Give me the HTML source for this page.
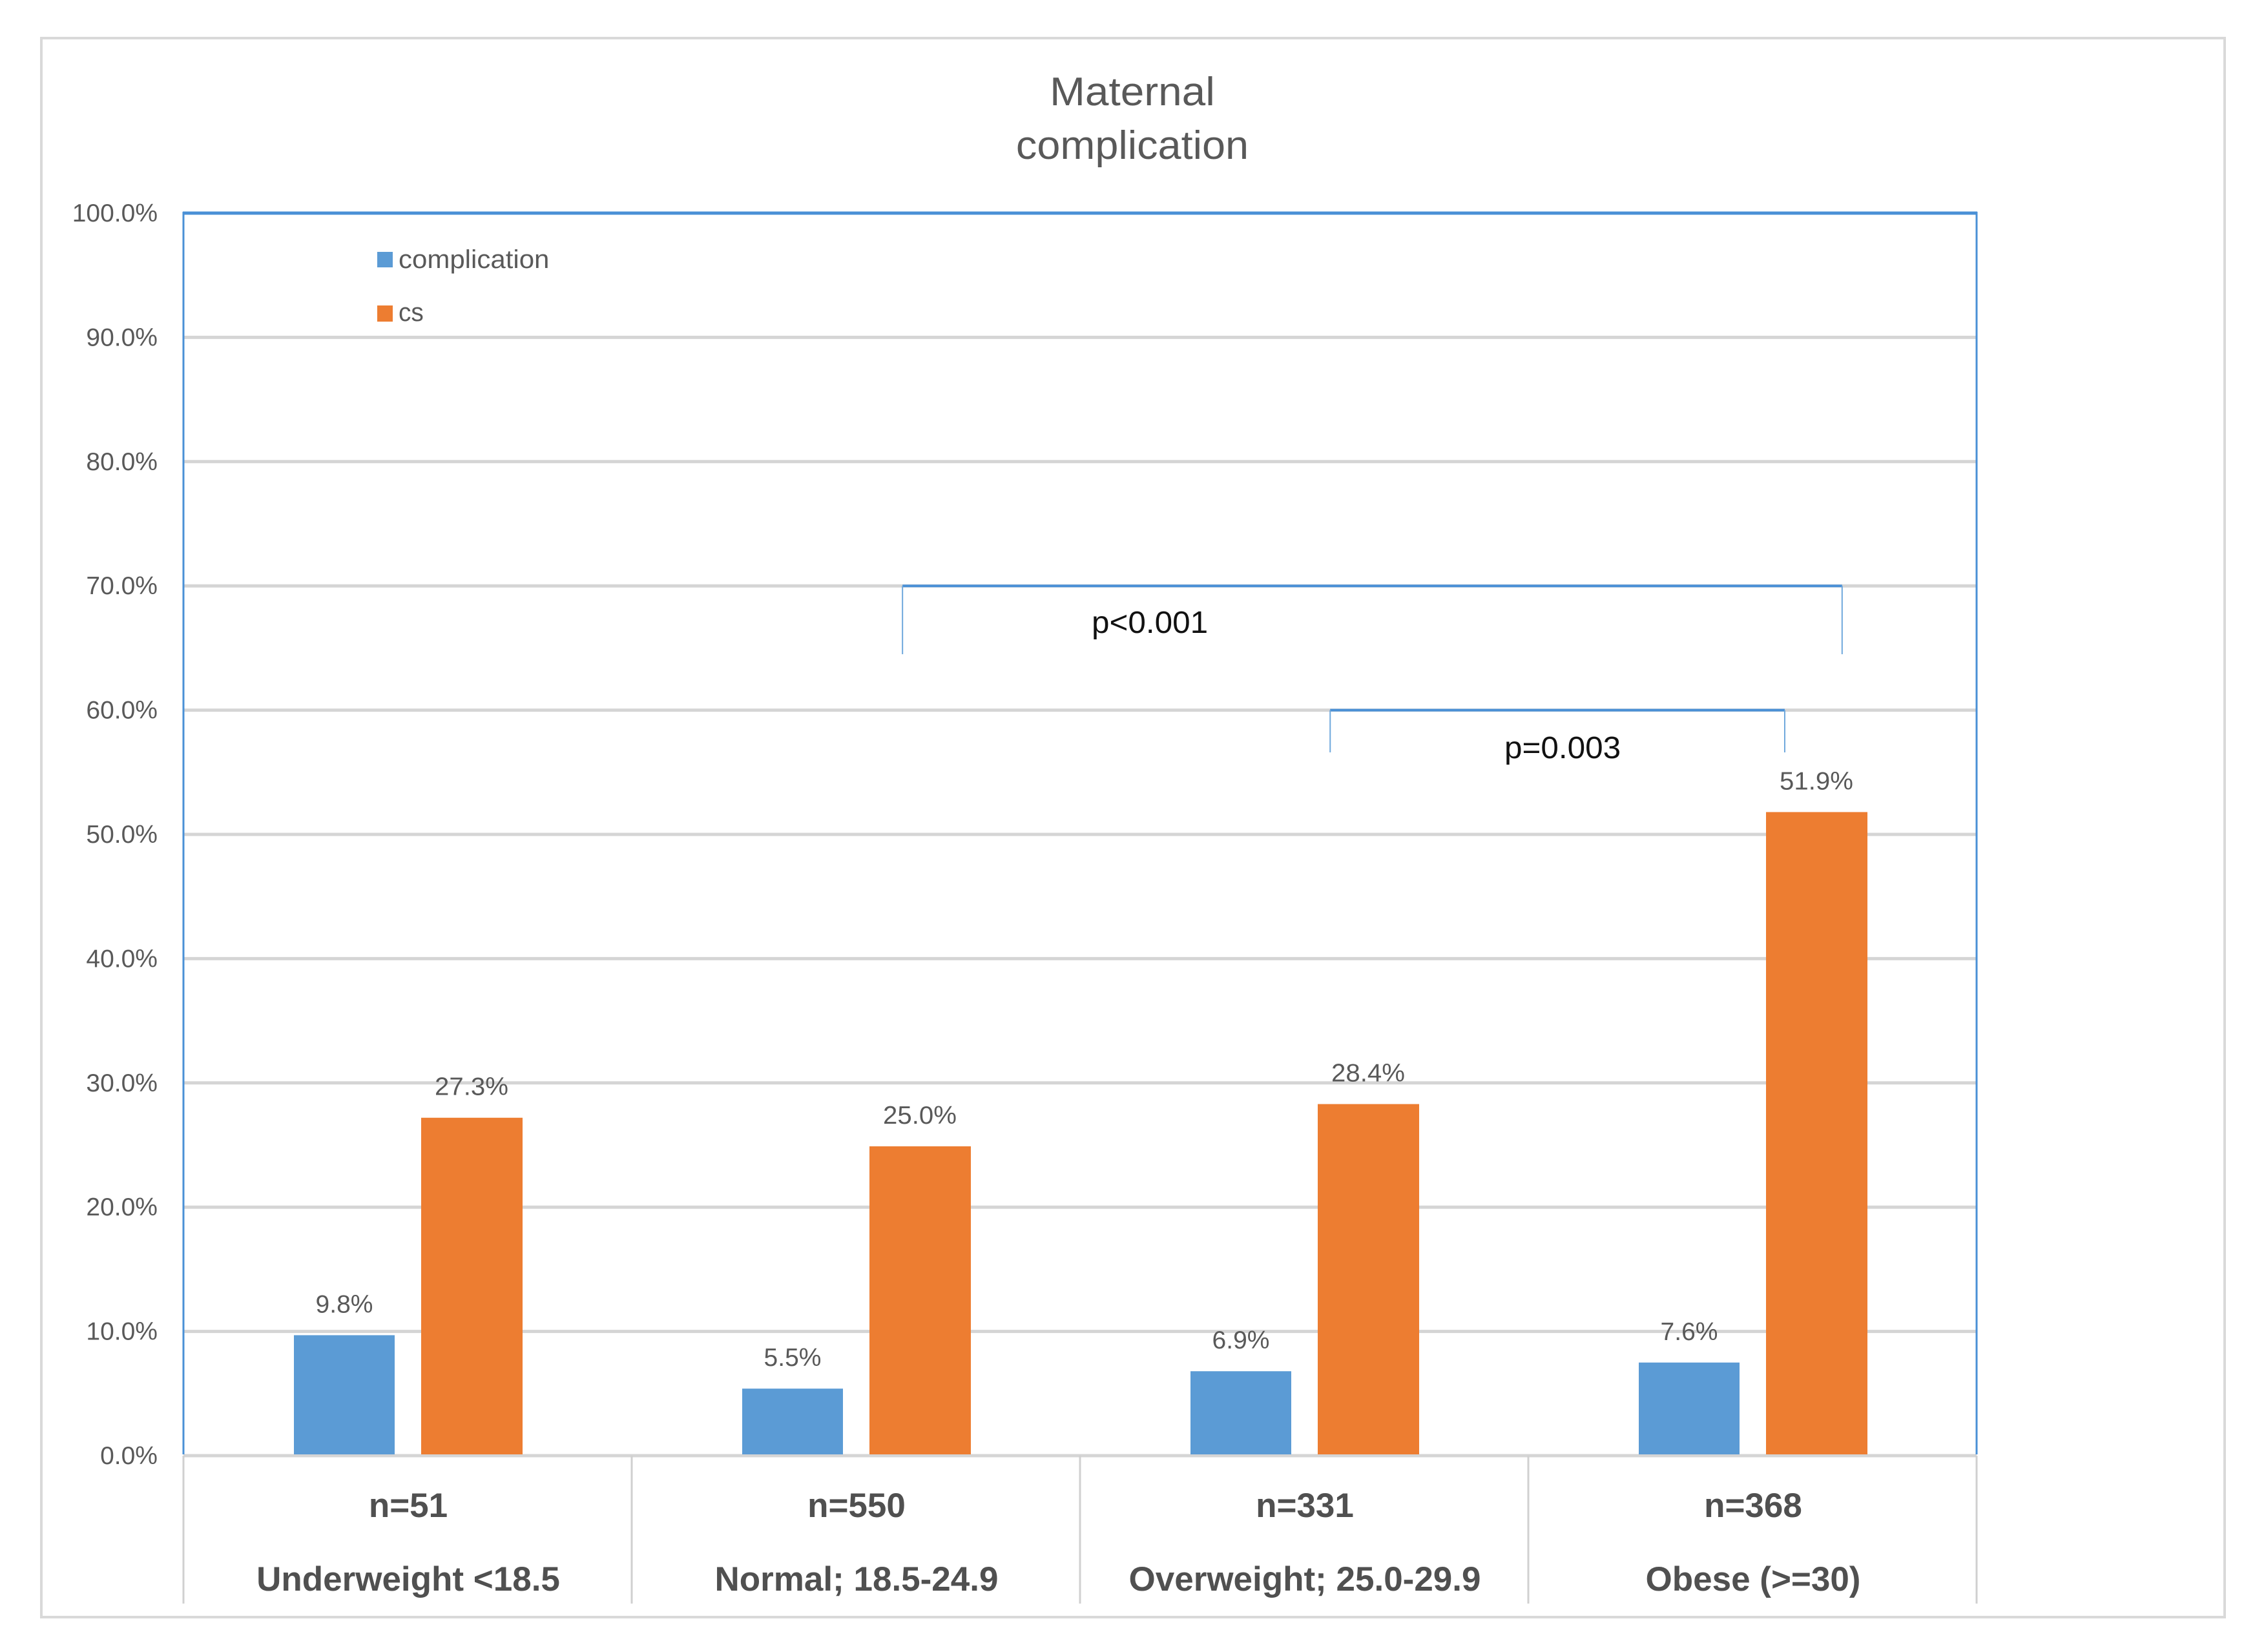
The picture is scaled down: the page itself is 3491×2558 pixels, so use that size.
<!DOCTYPE html>
<html lang="en">
<head>
<meta charset="utf-8">
<title>Maternal complication</title>
<style>
html,body{margin:0;padding:0;background:#fff;}
svg{display:block;}
text{font-family:"Liberation Sans",sans-serif;}
</style>
</head>
<body>
<svg id="chart" xmlns="http://www.w3.org/2000/svg" width="3491" height="2558" viewBox="0 0 3491 2558">
  <rect x="0" y="0" width="3491" height="2558" fill="#ffffff"/>
  <rect x="64" y="59" width="3380" height="2445" fill="#ffffff" stroke="#d9d9d9" stroke-width="4"/>
</svg>
<script>
const categories = ['Underweight <18.5', 'Normal; 18.5-24.9', 'Overweight; 25.0-29.9', 'Obese (>=30)'];
const sampleSizes = ['n=51', 'n=550', 'n=331', 'n=368'];
const complication = [9.8, 5.5, 6.9, 7.6];
const cs = [27.3, 25.0, 28.4, 51.9];
const tickValues = [0, 10, 20, 30, 40, 50, 60, 70, 80, 90, 100];
const tickLabels = ['0.0%', '10.0%', '20.0%', '30.0%', '40.0%', '50.0%', '60.0%', '70.0%', '80.0%', '90.0%', '100.0%'];
const legendLabels = ['complication', 'cs'];
const pLabels = ['p<0.001', 'p=0.003'];
const bracketLevels = [70, 60];
const bracketTails = [64.5, 56.6];
const bracketStarts = [1.604, 2.558];
const bracketEnds = [3.700, 3.572];

const svg = document.getElementById('chart');
const NS = 'http://www.w3.org/2000/svg';
const plotLeft = 284, plotRight = 3060, plotTop = 330, plotBottom = 2254;
const axisFloor = 2483;
const catWidth = (plotRight - plotLeft) / categories.length;
function yScale(v) { return plotBottom - (plotBottom - plotTop) * v / 100; }
function xScale(c) { return plotLeft + c * catWidth; }
const barWidth = 156, orangeWidth = 157, barOffsetBlue = -176, barOffsetOrange = 21, barTopShift = 2;
const BLUE = '#5b9bd5', ORANGE = '#ed7d31', TEXT = '#595959', GRID = '#d5d5d5', FRAME = '#4a90d6';

function line(x1, y1, x2, y2, stroke, width) {
  const el = document.createElementNS(NS, 'line');
  el.setAttribute('x1', x1);
  el.setAttribute('y1', y1);
  el.setAttribute('x2', x2);
  el.setAttribute('y2', y2);
  el.setAttribute('stroke', stroke);
  el.setAttribute('stroke-width', width);
  svg.appendChild(el);
  return el;
}
function rect(x, y, w, h, fill) {
  const el = document.createElementNS(NS, 'rect');
  el.setAttribute('x', x);
  el.setAttribute('y', y);
  el.setAttribute('width', w);
  el.setAttribute('height', h);
  el.setAttribute('fill', fill);
  svg.appendChild(el);
  return el;
}
function label(str, x, y, size, anchor, fill, weight, stretch) {
  const el = document.createElementNS(NS, 'text');
  el.textContent = str;
  el.setAttribute('x', x);
  el.setAttribute('y', y);
  el.setAttribute('font-size', size);
  el.setAttribute('text-anchor', anchor);
  el.setAttribute('fill', fill);
  el.setAttribute('font-weight', weight);
  svg.appendChild(el);
  if (stretch !== 1) {
    el.setAttribute('textLength', (el.getComputedTextLength() * stretch).toFixed(1));
    el.setAttribute('lengthAdjust', 'spacingAndGlyphs');
  }
  return el;
}

// gridlines and y-axis tick labels
tickValues.forEach(function (v, i) {
  if (v !== 100) {
    const g = line(plotLeft, yScale(v), plotRight, yScale(v), GRID, 5);
    
    
  }
  const t = label(tickLabels[i], 244, yScale(v) + 13, 39, 'end', TEXT, 'normal', 1);
  
  
});

// plot border
const borderLeft = line(plotLeft, plotTop - 2, plotLeft, plotBottom - 2, FRAME, 3);


const borderRight = line(plotRight, plotTop - 2, plotRight, plotBottom - 2, FRAME, 3);


const borderTop = line(plotLeft - 1, plotTop, plotRight + 1, plotTop, FRAME, 5);



// category separators
for (let i = 0; i <= categories.length; i++) {
  const s = line(xScale(i), plotBottom, xScale(i), axisFloor, '#d0d0d0', 3);
  
  
}

// bars and value labels
categories.forEach(function (cat, i) {
  const cx = xScale(i + 0.5);
  const top1 = yScale(complication[i]) + barTopShift;
  const top2 = yScale(cs[i]) + barTopShift;
  const b1 = rect(cx + barOffsetBlue, top1, barWidth, plotBottom - 2 - top1, BLUE);
  
  
  const b2 = rect(cx + barOffsetOrange, top2, orangeWidth, plotBottom - 2 - top2, ORANGE);
  
  
  const t1 = label(complication[i].toFixed(1) + '%', cx + barOffsetBlue + barWidth / 2, top1 - 35, 39, 'middle', TEXT, 'normal', 1);
  
  
  const t2 = label(cs[i].toFixed(1) + '%', cx + barOffsetOrange + barWidth / 2, top2 - 35, 39, 'middle', TEXT, 'normal', 1.03);
  
  
  const n = label(sampleSizes[i], cx + 1, 2349, 53, 'middle', '#505050', 'bold', 1);
  
  
  const c = label(cat, cx + 1, 2463, 53, 'middle', '#505050', 'bold', 1);
  
  
});

// significance brackets
bracketLevels.forEach(function (lvl, i) {
  const x1 = xScale(bracketStarts[i]), x2 = xScale(bracketEnds[i]);
  const top = line(x1, yScale(lvl), x2, yScale(lvl), FRAME, 4);
  
  
  const l = line(x1, yScale(lvl), x1, yScale(bracketTails[i]), '#6fa8dc', 2);
  
  
  const r = line(x2, yScale(lvl), x2, yScale(bracketTails[i]), '#6fa8dc', 2);
  
  
});
const p1 = label(pLabels[0], 1690, 980, 48, 'start', '#111111', 'normal', 1.03);


const p2 = label(pLabels[1], 2329, 1174, 48, 'start', '#111111', 'normal', 1.03);



// legend
const sw1 = rect(584, 390, 24, 24, BLUE);


const sw2 = rect(584, 473, 24, 25, ORANGE);


const lg1 = label(legendLabels[0], 617, 415, 40, 'start', TEXT, 'normal', 1.05);


const lg2 = label(legendLabels[1], 617, 497, 40, 'start', TEXT, 'normal', 0.97);



// title
const t1 = label('Maternal', 1753, 163, 62, 'middle', TEXT, 'normal', 1.06);


const t2 = label('complication', 1753, 246, 62, 'middle', TEXT, 'normal', 1.045);


</script>
</body>
</html>
